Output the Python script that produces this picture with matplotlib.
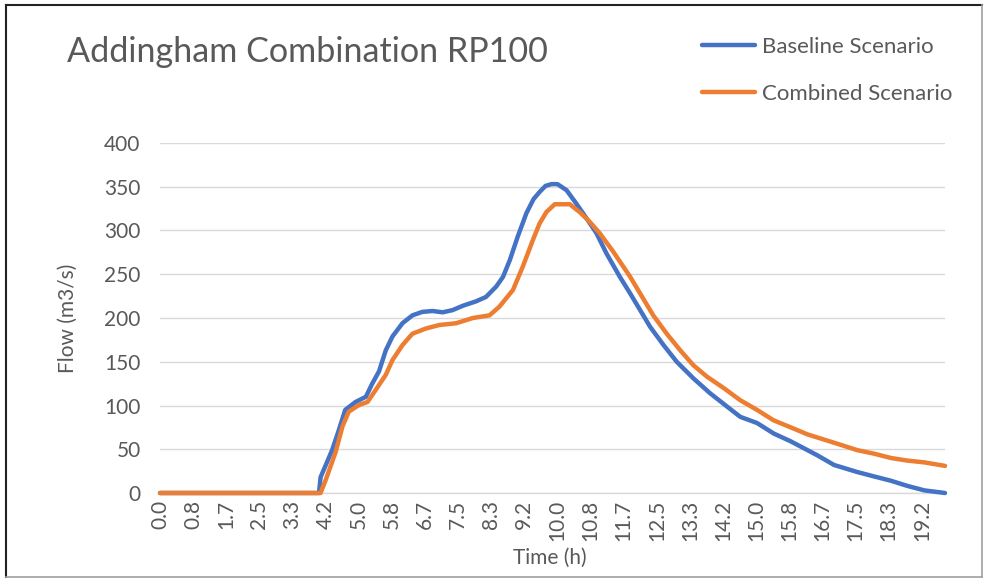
import matplotlib
matplotlib.use("Agg")
import matplotlib.pyplot as plt
from matplotlib.lines import Line2D

# ---- data ----
title = "Addingham Combination RP100"
series_names = ["Baseline Scenario", "Combined Scenario"]

time_baseline = [0, 4.0, 4.04, 4.33, 4.5, 4.66, 4.92, 5.18, 5.34, 5.51, 5.68, 5.85, 6.1, 6.35, 6.6,
                 6.86, 7.11, 7.36, 7.62, 7.95, 8.2, 8.46, 8.63, 8.8, 9.0, 9.22, 9.4, 9.55, 9.7,
                 9.85, 10.0, 10.23, 10.47, 10.73, 10.98, 11.23, 11.57, 11.83, 12.08, 12.33, 12.67,
                 13.0, 13.42, 13.84, 14.26, 14.6, 15.02, 15.44, 15.87, 16.29, 16.54, 16.96, 17.54,
                 17.96, 18.39, 18.81, 19.23, 19.75]
flow_baseline = [0, 0, 18, 49, 72, 95, 104, 110, 125, 139, 163, 179, 194, 203, 207,
                 208, 206.5, 209, 214, 219, 224, 236, 247, 266, 293, 320, 336, 344, 351,
                 353, 353, 346, 331, 314, 297, 274, 247, 228, 209, 190, 169,
                 150, 131, 114, 99, 87, 80, 68, 59, 49, 43, 32, 24,
                 19, 14, 8, 3, 0]

time_combined = [0, 4.04, 4.17, 4.42, 4.59, 4.75, 5.01, 5.22, 5.43, 5.68, 5.85, 6.1, 6.35, 6.69,
                 7.03, 7.45, 7.87, 8.29, 8.54, 8.88, 9.13, 9.38, 9.55, 9.72, 9.93, 10.31, 10.56,
                 10.81, 11.06, 11.4, 11.83, 12.08, 12.41, 12.75, 13.09, 13.42, 13.76, 14.18, 14.6,
                 15.02, 15.44, 15.87, 16.29, 16.71, 17.13, 17.54, 17.96, 18.39, 18.81, 19.23, 19.75]
flow_combined = [0, 0, 15, 47, 76, 93, 100.6, 104, 118, 135, 152, 169, 182, 188,
                 192, 194, 200, 203, 213, 232, 259, 289, 308, 321, 330, 330, 321,
                 310, 297, 276, 247, 228, 203, 182, 163, 146, 133, 120, 106,
                 95, 83, 75, 67, 61, 55, 49, 45, 40, 37, 35, 31]

x_tick_labels = ["0.0", "0.8", "1.7", "2.5", "3.3", "4.2", "5.0", "5.8", "6.7", "7.5", "8.3",
                 "9.2", "10.0", "10.8", "11.7", "12.5", "13.3", "14.2", "15.0", "15.8", "16.7",
                 "17.5", "18.3", "19.2"]
y_ticks = [0, 50, 100, 150, 200, 250, 300, 350, 400]

# ---- style ----
plt.rcParams['font.family'] = ['Lato', 'DejaVu Sans']
TXT = "#595959"
W, H = 988, 581
fig = plt.figure(figsize=(W / 100, H / 100), dpi=100)
ax = fig.add_axes([160 / W, 1 - 493 / H, (945 - 160) / W, (493 - 143) / H])

ax.plot(time_baseline, flow_baseline, color="#4472C4", lw=3.2, solid_capstyle="round",
        solid_joinstyle="round", label=series_names[0], zorder=3, clip_on=False)
ax.plot(time_combined, flow_combined, color="#ED7D31", lw=3.2, solid_capstyle="round",
        solid_joinstyle="round", label=series_names[1], zorder=4, clip_on=False)

ax.set_xlim(0, 19.75)
ax.set_ylim(0, 400)
ax.set_yticks(y_ticks)
ax.set_xticks([i * 50 / 60 for i in range(len(x_tick_labels))])
ax.set_xticklabels(x_tick_labels, rotation=90, fontsize=15, color=TXT)
ax.tick_params(axis='y', labelsize=15, labelcolor=TXT, length=0, pad=14)
ax.tick_params(axis='x', length=0, pad=5)

ax.grid(axis='y', color="#D9D9D9", lw=1.0)
ax.set_axisbelow(True)
for s in ['top', 'right', 'left']:
    ax.spines[s].set_visible(False)
ax.spines['bottom'].set_color("#D9D9D9")
ax.spines['bottom'].set_linewidth(1.0)

ax.set_ylabel("Flow (m3/s)", fontsize=15, color=TXT)
ax.yaxis.set_label_coords((78 - 160) / (945 - 160), 0.5)
ax.set_xlabel("Time (h)", fontsize=15, color=TXT, va='center')
ax.xaxis.set_label_coords((550 - 160) / (945 - 160), (493 - 558) / (493 - 143))

fig.text(67 / W, 1 - 62 / H, title, fontsize=24.6, color=TXT, va='baseline', ha='left')

leg = fig.legend(loc='upper left', bbox_to_anchor=(702 / W, 1 - 37 / H), frameon=False,
                 fontsize=16, handlelength=2.4, handletextpad=0.3, labelspacing=1.2,
                 borderpad=0, borderaxespad=0)
for t in leg.get_texts():
    t.set_color(TXT)

# outer frame
fig.add_artist(Line2D([6 / W, 6 / W], [1 - 5 / H, 1 - 577 / H], color="#222222", lw=1.5))
fig.add_artist(Line2D([6 / W, 982 / W], [1 - 5 / H, 1 - 5 / H], color="#222222", lw=1.5))
fig.add_artist(Line2D([982 / W, 982 / W], [1 - 5 / H, 1 - 577 / H], color="#A0A0A0", lw=1.2))
fig.add_artist(Line2D([6 / W, 982 / W], [1 - 577 / H, 1 - 577 / H], color="#A0A0A0", lw=1.2))

fig.savefig("out.png", dpi=100)
